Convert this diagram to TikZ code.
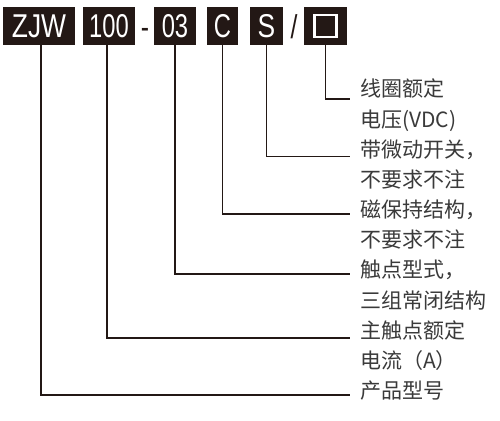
\documentclass[tikz,border=0pt]{standalone}
\usepackage{fontspec}
\setmainfont{Liberation Sans}
\newfontfamily\cjk{Noto Sans CJK SC}
\usepackage{graphicx}
\definecolor{boxblack}{HTML}{231815}
\definecolor{txtgray}{HTML}{3A3A3A}
\begin{document}
\begin{tikzpicture}[x=1pt,y=-1pt,
  codebox/.style={fill=boxblack,draw=none,inner sep=0pt,minimum height=38pt,
    text=white,font=\fontsize{33}{33}\selectfont},
  lbl/.style={anchor=west,inner ysep=0pt,inner xsep=10pt,text=txtgray,
    font=\cjk\fontsize{21}{21}\selectfont,text height=0.82em,text depth=0.06em},
  sep/.style={text=boxblack,font=\fontsize{33}{33}\selectfont,inner sep=0pt,anchor=base},
  conn/.style={draw=boxblack,line width=1.5pt}]
\useasboundingbox (0,0) rectangle (500,420);
% code boxes
\node[codebox,minimum width=72pt] (zjw) at (39,26) {\scalebox{0.8}[1]{ZJW}};
\node[codebox,minimum width=52pt] (n100) at (109,26) {\scalebox{0.72}[1]{100}};
\node[sep] (dash) at (145,39) {\scalebox{0.75}[1]{-}};
\node[codebox,minimum width=42pt] (n03) at (175,26) {\scalebox{0.72}[1]{03}};
\node[codebox,minimum width=31pt] (c) at (222.5,26) {\scalebox{0.72}[1]{C}};
\node[codebox,minimum width=33pt] (s) at (266.5,26) {\scalebox{0.8}[1]{S}};
\node[sep] (slash) at (294,39) {\scalebox{0.75}[1]{/}};
\node[codebox,minimum width=43pt] (sq) at (325.5,26) {};
\node[draw=white,line width=2.5pt,minimum width=22pt,minimum height=22pt,inner sep=0pt] (sqin) at (325.5,26) {};
% labels
\node[lbl] (t0) at (350,93) {线圈额定};
\node[lbl] (t1) at (350,123.5) {电压(VDC)};
\node[lbl] (t2) at (350,153.5) {带微动开关，};
\node[lbl] (t3) at (350,184) {不要求不注};
\node[lbl] (t4) at (350,214) {磁保持结构，};
\node[lbl] (t5) at (350,244) {不要求不注};
\node[lbl] (t6) at (350,274) {触点型式，};
\node[lbl] (t7) at (350,304.5) {三组常闭结构};
\node[lbl] (t8) at (350,335) {主触点额定};
\node[lbl] (t9) at (350,365) {电流（A）};
\node[lbl] (t10) at (350,395) {产品型号};
% connectors
\draw[conn] (sq.south) |- ([yshift=-6pt]t0.west);
\draw[conn] (s.south) |- ([yshift=-3pt]t2.west);
\draw[conn] (c.south) |- (t4.west);
\draw[conn] (n03.south) |- (t6.west);
\draw[conn] ([xshift=-2pt]n100.south) |- ([yshift=-3pt]t8.west);
\draw[conn] ([xshift=2pt]zjw.south) |- (t10.west);
\end{tikzpicture}
\end{document}
